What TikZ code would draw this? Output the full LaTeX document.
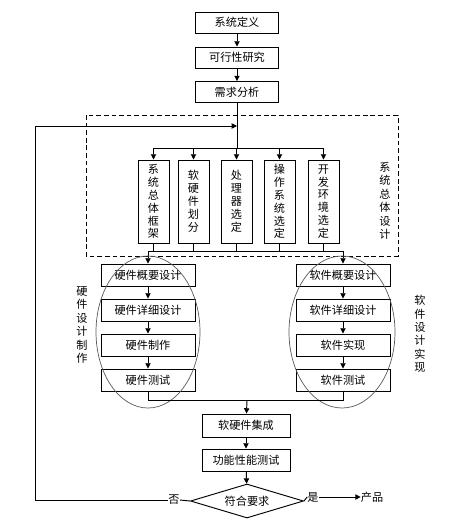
\documentclass[tikz,border=0pt]{standalone}
\usepackage{fontspec}
\setmainfont{Noto Sans CJK SC}
\usetikzlibrary{arrows.meta, shapes.geometric}
\tikzset{
  >={Triangle[length=4.5pt, width=4.5pt]},
  flowbox/.style={draw, rectangle, line width=0.8pt, inner sep=0pt,
    minimum width=2.49cm, minimum height=0.63cm, font=\fontsize{9.5}{11}\selectfont},
  designbox/.style={flowbox, minimum width=2.82cm, minimum height=0.66cm},
  colbox/.style={draw, rectangle, line width=0.8pt, inner sep=0pt, align=center,
    minimum width=0.93cm, minimum height=2.49cm, font=\fontsize{9.5}{11}\selectfont},
  sidetext/.style={align=center, inner sep=0pt, font=\fontsize{9.5}{11.5}\selectfont},
  wire/.style={line width=0.8pt},
  judge/.style={draw, diamond, aspect=3.3, line width=0.8pt, inner sep=0pt,
    minimum width=3.39cm, minimum height=1.02cm, font=\fontsize{9.5}{11}\selectfont},
  plain/.style={inner sep=0pt, font=\fontsize{9.5}{11}\selectfont}
}
\begin{document}
\begin{tikzpicture}[x=0.03cm, y=-0.03cm]
    \useasboundingbox (0, 0) rectangle (462, 523);

    \draw (237, 22.5) node[flowbox](dingyi){系统定义}
          (237, 57.5) node[flowbox](kexing){可行性研究}
          (237, 92) node[flowbox](xuqiu){需求分析};
    \draw[wire, ->] (dingyi) -- (kexing);
    \draw[wire, ->] (kexing) -- (xuqiu);

    \draw[line width=0.8pt, dash pattern=on 4pt off 2.5pt] (86, 115) rectangle (398, 256);
    \node[sidetext] (zongti) at (385, 201) {系\\统\\总\\体\\设\\计};

    \draw (153.5, 201.5) node[colbox](kuangjia){系\\统\\总\\体\\框\\架}
          (193.5, 201.5) node[colbox](huafen){软\\硬\\件\\划\\分}
          (236.5, 201.5) node[colbox](chuliqi){处\\理\\器\\选\\定}
          (279.5, 201.5) node[colbox](caozuo){操\\作\\系\\统\\选\\定}
          (323.5, 201.5) node[colbox](kaifa){开\\发\\环\\境\\选\\定};

    \coordinate (fenzhi) at (237, 148);
    \coordinate (huizong) at (244, 251);
    \coordinate (fankui) at (237, 126);

    \draw[wire] (xuqiu) -- (fenzhi);
    \draw[wire] (kuangjia.north |- fenzhi) -- (kaifa.north |- fenzhi);
    \foreach \c in {kuangjia, huafen, chuliqi, caozuo, kaifa} {
        \draw[wire, ->] (\c.north |- fenzhi) -- (\c.north);
        \draw[wire] (\c.south) -- (\c.south |- huizong);
    }

    \draw (148, 275) node[designbox](yj1){硬件概要设计}
          (148, 310) node[designbox](yj2){硬件详细设计}
          (148, 345) node[designbox](yj3){硬件制作}
          (148, 380) node[designbox](yj4){硬件测试};
    \draw (343, 275) node[designbox](rj1){软件概要设计}
          (343, 310) node[designbox](rj2){软件详细设计}
          (343, 345) node[designbox](rj3){软件实现}
          (343, 380) node[designbox](rj4){软件测试};

    \draw[wire] (yj1.north |- huizong) -- (rj1.north |- huizong);
    \draw[wire, ->] (yj1.north |- huizong) -- (yj1.north);
    \draw[wire, ->] (rj1.north |- huizong) -- (rj1.north);
    \draw[wire, ->] (yj1) -- (yj2);
    \draw[wire, ->] (yj2) -- (yj3);
    \draw[wire, ->] (yj3) -- (yj4);
    \draw[wire, ->] (rj1) -- (rj2);
    \draw[wire, ->] (rj2) -- (rj3);
    \draw[wire, ->] (rj3) -- (rj4);

    \draw[black!65, line width=0.6pt] (148, 332) ellipse [x radius=1.56cm, y radius=2.28cm];
    \draw[black!65, line width=0.6pt] (342, 332) ellipse [x radius=1.59cm, y radius=2.28cm];
    \node[sidetext] (yingjian) at (82, 325) {硬\\件\\设\\计\\制\\作};
    \node[sidetext] (ruanjian) at (420, 334) {软\\件\\设\\计\\实\\现};

    \coordinate (jihe) at (247, 400);
    \draw (246, 425.5) node[flowbox, minimum width=2.64cm, minimum height=0.69cm](jicheng){软硬件集成}
          (246, 460) node[flowbox, minimum width=2.64cm, minimum height=0.66cm](ceshi){功能性能测试}
          (247, 501) node[judge](fuhe){符合要求};

    \draw[wire] (yj4.south) -- (yj4.south |- jihe) -- (rj4.south |- jihe) -- (rj4.south);
    \draw[wire, ->] (jihe) -- (jicheng);
    \draw[wire, ->] (jicheng) -- (ceshi);
    \draw[wire, ->] (ceshi) -- (fuhe);

    \node[plain] (fou) at (174, 500) {否};
    \node[plain] (shi) at (313, 497) {是};
    \node[plain] (chanpin) at (372, 497) {产品};

    \draw[wire] (fuhe.west) -- (fou.east);
    \draw[wire, ->] (fou.west) -- (35, 500) -- (35, 126) -- (fankui);
    \draw[wire] (fuhe.east) -- (shi.west);
    \draw[wire, ->] (shi.east) -- (chanpin.west);
\end{tikzpicture}
\end{document}
